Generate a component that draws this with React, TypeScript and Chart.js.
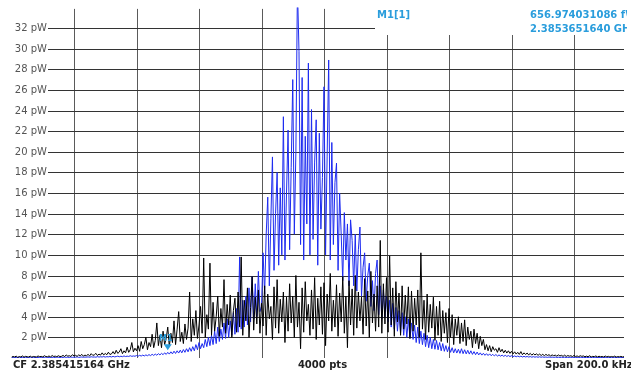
import React, { useEffect, useRef } from "react";
import { Chart, registerables } from "chart.js";
Chart.register(...registerables);

// ---- data ----
const SAMPLE_STEP = 10; // sweep points per sample
const X_VISIBLE_MAX = 3920; // visible part of the 4000-point sweep
const Y_MAX = 34; // pW
const yTickValues = [2, 4, 6, 8, 10, 12, 14, 16, 18, 20, 22, 24, 26, 28, 30, 32];
const xGridValues = [400, 800, 1200, 1600, 2000, 2400, 2800, 3200, 3600];

// trace 2 (black), pW
const blackTrace = [
  0.08, 0.15, 0.1, 0.18, 0.06, 0.14, 0.1, 0.2, 0.08, 0.16, 0.12, 0.1, 0.18, 0.08, 0.15, 0.12,
  0.1, 0.2, 0.12, 0.16, 0.1, 0.22, 0.14, 0.12, 0.2, 0.1, 0.24, 0.15, 0.18, 0.12, 0.22, 0.14,
  0.16, 0.25, 0.14, 0.3, 0.18, 0.22, 0.15, 0.32, 0.2, 0.26, 0.16, 0.3, 0.22, 0.35, 0.18, 0.28,
  0.22, 0.35, 0.2, 0.42, 0.26, 0.3, 0.45, 0.24, 0.38, 0.28, 0.5, 0.3, 0.44, 0.32, 0.56, 0.34,
  0.4, 0.62, 0.38, 0.75, 0.45, 0.58, 0.9, 0.42, 0.7, 0.5, 1.05, 0.55, 0.8, 1.5, 0.6, 0.95,
  0.7, 1.2, 0.65, 1.6, 0.9, 1.3, 2.0, 0.8, 1.5, 1.1, 2.3, 1.0, 1.7, 3.4, 1.2, 2.2,
  1.0, 2.6, 1.3, 1.9, 3.0, 1.1, 2.4, 1.5, 3.6, 1.3, 2.8, 4.5, 1.6, 2.5, 1.4, 3.3,
  1.8, 2.9, 6.4, 1.6, 3.8, 2.2, 4.6, 1.9, 3.2, 5.0, 2.4, 9.7, 2.0, 4.2, 2.8, 9.2,
  2.2, 5.4, 2.6, 4.0, 6.0, 2.1, 4.8, 3.0, 7.6, 2.4, 5.2, 3.2, 6.1, 2.0, 4.6, 5.8,
  2.5, 6.4, 3.0, 9.8, 2.2, 5.6, 3.6, 6.8, 2.0, 4.9, 7.9, 2.7, 5.9, 3.3, 6.6, 2.4,
  5.3, 3.1, 7.0, 2.2, 6.2, 3.8, 5.0, 1.8, 6.9, 2.9, 7.6, 2.4, 5.7, 3.5, 6.4, 1.5,
  5.9, 2.6, 7.2, 3.4, 6.0, 2.0, 8.0, 3.0, 5.4, 0.9, 6.8, 2.5, 7.4, 3.6, 5.2, 2.2,
  6.6, 2.8, 7.8, 1.8, 5.8, 3.2, 6.9, 2.3, 7.3, 1.2, 6.2, 3.6, 8.2, 2.6, 5.6, 3.0,
  7.1, 2.1, 6.3, 3.5, 7.9, 2.4, 6.0, 1.0, 7.5, 3.2, 6.7, 2.2, 8.0, 2.9, 6.4, 3.6,
  5.9, 2.3, 7.7, 3.1, 6.5, 2.0, 8.4, 3.4, 6.2, 2.6, 7.0, 3.0, 11.4, 2.4, 7.2, 3.3,
  7.8, 2.5, 9.9, 3.2, 6.8, 2.1, 7.4, 3.5, 6.3, 2.2, 7.0, 2.8, 6.1, 3.3, 6.9, 1.9,
  6.5, 2.6, 5.8, 3.2, 6.6, 2.0, 10.2, 2.8, 5.6, 1.8, 6.2, 2.5, 5.2, 2.9, 5.9, 1.7,
  5.0, 2.2, 5.5, 1.6, 4.6, 2.4, 4.4, 1.5, 4.8, 2.0, 4.2, 1.3, 3.8, 2.2, 4.0, 1.4,
  3.4, 1.6, 3.7, 1.2, 3.0, 1.8, 2.6, 1.0, 2.8, 1.4, 2.4, 0.9, 2.1, 1.2, 1.8, 0.8,
  1.3, 0.7, 1.2, 0.6, 1.1, 0.75, 0.9, 0.55, 1.0, 0.6, 0.85, 0.5, 0.75, 0.48, 0.7, 0.45,
  0.65, 0.4, 0.6, 0.38, 0.55, 0.35, 0.62, 0.32, 0.5, 0.34, 0.48, 0.3, 0.45, 0.28, 0.42, 0.3,
  0.4, 0.26, 0.38, 0.24, 0.36, 0.22, 0.35, 0.25, 0.32, 0.2, 0.3, 0.22, 0.28, 0.18, 0.3, 0.2,
  0.26, 0.16, 0.28, 0.15, 0.24, 0.18, 0.22, 0.14, 0.25, 0.15, 0.2, 0.13, 0.22, 0.16, 0.2, 0.12,
  0.18, 0.12, 0.22, 0.1, 0.16, 0.13, 0.2, 0.1, 0.17, 0.12, 0.15, 0.1, 0.19, 0.11, 0.16, 0.1,
  0.15, 0.1, 0.18, 0.09, 0.14, 0.11, 0.16, 0.1, 0.13,
];

// trace 1 (blue), pW
const blueTrace = [
  0.04, 0.07, 0.03, 0.06, 0.05, 0.08, 0.04, 0.06, 0.03, 0.07, 0.05, 0.04, 0.08, 0.05, 0.06, 0.04,
  0.06, 0.04, 0.08, 0.05, 0.07, 0.04, 0.09, 0.05, 0.06, 0.08, 0.05, 0.07, 0.04, 0.09, 0.06, 0.05,
  0.07, 0.05, 0.09, 0.06, 0.08, 0.05, 0.1, 0.06, 0.09, 0.07, 0.11, 0.06, 0.08, 0.1, 0.07, 0.09,
  0.08, 0.11, 0.07, 0.12, 0.09, 0.1, 0.08, 0.13, 0.09, 0.12, 0.1, 0.14, 0.09, 0.13, 0.11, 0.15,
  0.1, 0.16, 0.11, 0.14, 0.18, 0.12, 0.17, 0.13, 0.2, 0.14, 0.18, 0.15, 0.22, 0.16, 0.2, 0.17,
  0.24, 0.17, 0.26, 0.19, 0.28, 0.2, 0.3, 0.22, 0.33, 0.23, 0.36, 0.25, 0.38, 0.27, 0.42, 0.3,
  0.45, 0.32, 0.5, 0.35, 0.55, 0.38, 0.6, 0.4, 0.66, 0.44, 0.7, 0.48, 0.76, 0.5, 0.82, 0.55,
  0.9, 0.6, 1.0, 0.65, 1.1, 0.7, 1.3, 0.8, 1.5, 0.9, 1.4, 1.0, 1.8, 1.1, 2.0, 1.2,
  2.2, 1.3, 2.6, 1.4, 3.0, 1.6, 2.8, 1.8, 3.4, 1.9, 3.8, 2.0, 3.6, 2.2, 4.4, 2.3,
  4.8, 2.5, 9.8, 2.8, 5.6, 3.0, 6.0, 3.2, 6.8, 3.5, 7.9, 3.8, 7.2, 4.0, 8.4, 4.5,
  5.0, 10.2, 6.2, 12.0, 15.6, 7.0, 13.5, 19.5, 8.5, 14.0, 18.0, 9.0, 16.5, 10.0, 23.4, 9.5,
  16.0, 22.1, 10.5, 18.5, 27.0, 12.0, 20.0, 36, 29.7, 11.0, 27.2, 9.5, 21.5, 13.0, 28.6, 10.0,
  24.1, 11.5, 19.0, 23.1, 9.0, 21.8, 12.5, 17.5, 26.3, 10.0, 19.5, 28.9, 9.5, 20.9, 11.0, 17.0,
  18.9, 8.5, 16.0, 12.0, 7.5, 14.1, 9.5, 13.0, 7.0, 13.4, 11.4, 7.0, 12.0, 6.5, 10.5, 12.7,
  6.0, 8.8, 10.2, 5.5, 8.0, 9.2, 5.0, 7.5, 4.6, 8.2, 9.5, 4.2, 7.0, 3.8, 6.6, 4.0,
  6.0, 3.5, 5.6, 3.0, 5.3, 2.8, 4.9, 2.6, 4.6, 2.4, 4.4, 2.2, 4.0, 2.0, 3.8, 1.9,
  3.4, 1.8, 3.2, 1.5, 3.0, 1.4, 2.6, 1.3, 2.4, 1.1, 2.2, 1.0, 2.0, 0.9, 1.8, 0.85,
  1.7, 0.8, 1.5, 0.7, 1.4, 0.65, 1.2, 0.6, 1.1, 0.55, 1.0, 0.5, 0.9, 0.48, 0.85, 0.45,
  0.9, 0.42, 0.8, 0.4, 0.75, 0.38, 0.7, 0.35, 0.62, 0.32, 0.58, 0.3, 0.5, 0.28, 0.46, 0.26,
  0.42, 0.24, 0.4, 0.22, 0.36, 0.2, 0.34, 0.19, 0.3, 0.18, 0.28, 0.16, 0.26, 0.15, 0.24, 0.14,
  0.22, 0.13, 0.2, 0.12, 0.19, 0.11, 0.18, 0.1, 0.16, 0.1, 0.15, 0.09, 0.14, 0.08, 0.13, 0.08,
  0.12, 0.07, 0.12, 0.07, 0.11, 0.06, 0.1, 0.06, 0.1, 0.06, 0.09, 0.05, 0.09, 0.05, 0.08, 0.05,
  0.08, 0.05, 0.08, 0.04, 0.07, 0.05, 0.07, 0.04, 0.07, 0.05, 0.06, 0.04, 0.07, 0.04, 0.06, 0.04,
  0.06, 0.04, 0.07, 0.04, 0.06, 0.04, 0.06, 0.03, 0.06, 0.04, 0.05, 0.04, 0.06, 0.03, 0.05, 0.04,
  0.05, 0.03, 0.06, 0.04, 0.05, 0.03, 0.05, 0.04, 0.05,
];

const markerPoint = { x: 1000, y: 0.657 };
const markerTag = "M1";
const markerName = "M1[1]";
const markerLevel = "656.974031086 fW";
const markerFreq = "2.3853651640 GHz";
const cfLabel = "CF 2.385415164 GHz";
const ptsLabel = "4000 pts";
const spanLabel = "Span 200.0 kHz";
const yUnit = "pW";

const MARKER_COLOR = "#2a9ddc";
const FONT = '"DejaVu Sans", Verdana, sans-serif';

const overlayPlugin = {
  id: "analyzerOverlay",
  beforeDatasetsDraw(chart: any) {
    const { ctx, chartArea, scales } = chart;
    const xs = scales.x;
    const ys = scales.y;
    ctx.save();
    ctx.lineWidth = 1;
    ctx.strokeStyle = "#5a5a5a";
    for (const v of xGridValues) {
      const px = Math.round(xs.getPixelForValue(v)) + 0.5;
      ctx.beginPath();
      ctx.moveTo(px, chartArea.top + 1.5);
      ctx.lineTo(px, chartArea.bottom);
      ctx.stroke();
    }
    ctx.strokeStyle = "#333";
    ctx.fillStyle = "#555";
    ctx.font = `10px ${FONT}`;
    ctx.textAlign = "right";
    ctx.textBaseline = "middle";
    for (const v of yTickValues) {
      const py = Math.round(ys.getPixelForValue(v)) + 0.5;
      ctx.beginPath();
      ctx.moveTo(48, py);
      ctx.lineTo(chartArea.right, py);
      ctx.stroke();
      ctx.fillText(`${v} ${yUnit}`, 47, py);
    }
    ctx.fillStyle = "#fff";
    ctx.fillRect(375, 0, chart.width - 375, 35);
    ctx.beginPath();
    ctx.rect(0, 0, 627, chart.height);
    ctx.clip();
    ctx.fillStyle = MARKER_COLOR;
    ctx.font = `bold 10px ${FONT}`;
    ctx.textAlign = "left";
    ctx.fillText(markerName, 377, 15);
    ctx.fillText(markerLevel, 530, 15);
    ctx.fillText(markerFreq, 530, 29);
    ctx.restore();
  },
  afterDatasetsDraw(chart: any) {
    const { ctx, scales } = chart;
    const px = scales.x.getPixelForValue(markerPoint.x);
    const py = scales.y.getPixelForValue(markerPoint.y);
    ctx.save();
    ctx.fillStyle = MARKER_COLOR;
    ctx.beginPath();
    ctx.moveTo(px - 4, py - 7);
    ctx.lineTo(px + 4, py - 7);
    ctx.lineTo(px, py - 1);
    ctx.closePath();
    ctx.fill();
    ctx.font = `bold 8px ${FONT}`;
    ctx.textAlign = "center";
    ctx.textBaseline = "middle";
    ctx.fillText(markerTag, px - 2, py - 12);
    ctx.restore();
  },
  afterDraw(chart: any) {
    const { ctx } = chart;
    ctx.save();
    ctx.fillStyle = "#222";
    ctx.font = `bold 10px ${FONT}`;
    ctx.textBaseline = "middle";
    ctx.textAlign = "left";
    ctx.fillText(cfLabel, 13, 365.5);
    ctx.textAlign = "center";
    ctx.fillText(ptsLabel, 322.5, 365.5);
    ctx.textAlign = "left";
    ctx.fillText(spanLabel, 545, 365.5);
    ctx.restore();
  },
};

export default function App() {
  const canvasRef = useRef<HTMLCanvasElement | null>(null);

  useEffect(() => {
    const canvas = canvasRef.current;
    if (!canvas) return;
    const chart = new Chart(canvas, {
      type: "line",
      data: {
        datasets: [
          {
            label: "Trace 2",
            data: blackTrace.map((v, i) => ({ x: i * SAMPLE_STEP, y: v })),
            borderColor: "#000000",
            borderWidth: 1,
            pointRadius: 0,
            tension: 0,
            fill: false,
          },
          {
            label: "Trace 1",
            data: blueTrace.map((v, i) => ({ x: i * SAMPLE_STEP, y: v })),
            borderColor: "#1e2cf0",
            borderWidth: 1,
            pointRadius: 0,
            tension: 0,
            fill: false,
          },
        ],
      },
      options: {
        animation: false,
        responsive: false,
        devicePixelRatio: 1,
        layout: { padding: { left: 11.5, right: 7, top: 7.4, bottom: 14 } },
        plugins: {
          legend: { display: false },
          tooltip: { enabled: false },
        },
        events: [],
        scales: {
          x: { type: "linear", min: 0, max: X_VISIBLE_MAX, display: false },
          y: { type: "linear", min: 0, max: Y_MAX, display: false },
        },
      },
      plugins: [overlayPlugin],
    });
    return () => chart.destroy();
  }, []);

  return (
    <div style={{ position: "absolute", left: 0, top: 0, width: 631, height: 372, background: "#fff" }}>
      <canvas ref={canvasRef} width={631} height={372} style={{ display: "block" }} />
    </div>
  );
}
